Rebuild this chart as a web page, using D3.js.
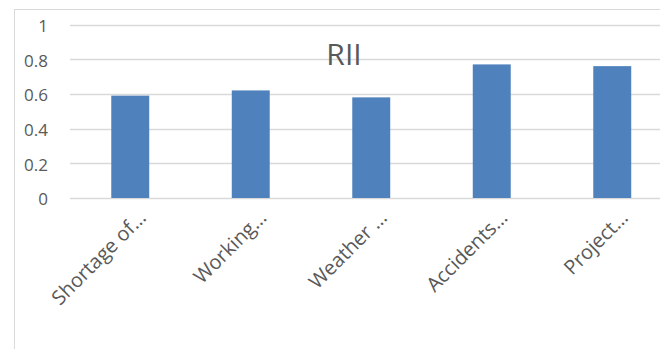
<!DOCTYPE html>
<html><head><meta charset="utf-8">
<script src="https://cdn.jsdelivr.net/npm/d3@7"></script>
<style>html,body{margin:0;padding:0;background:#fff;}svg{display:block;}</style>
</head><body>
<script>
const categories = ["Shortage of…", "Working…", "Weather …", "Accidents…", "Project…"];
const values = [0.59, 0.62, 0.58, 0.77, 0.76];
const yTicks = [0, 0.2, 0.4, 0.6, 0.8, 1];
const yTickLabels = ["0", "0.2", "0.4", "0.6", "0.8", "1"];
const title = "RII";

const W = 660, H = 349;
const font = "'Open Sans', Calibri, sans-serif";
const svg = d3.select("body").append("svg").attr("width", W).attr("height", H);

// chart area border
svg.append("rect").attr("x", 14.5).attr("y", 9.5).attr("width", 700).attr("height", 400)
  .attr("fill", "#fff").attr("stroke", "#d9d9d9").attr("stroke-width", 1);

const x = d3.scaleBand().domain(categories).range([70, 672.5]).paddingInner(0.685).paddingOuter(0.3425);
const y = d3.scaleLinear().domain([0, 1]).range([198, 24.5]);

// gridlines
svg.append("g").selectAll("line").data(yTicks).join("line")
  .attr("x1", 70).attr("x2", 672.5)
  .attr("y1", d => Math.round(y(d)) + 0.5).attr("y2", d => Math.round(y(d)) + 0.5)
  .attr("stroke", "#d9d9d9").attr("stroke-width", 1.3);

// y axis labels
const yAxis = d3.axisLeft(y).tickValues(yTicks).tickSize(0).tickPadding(0)
  .tickFormat((d, i) => yTickLabels[i]);
const gy = svg.append("g").attr("transform", "translate(48,0)").call(yAxis);
gy.select(".domain").remove();
gy.selectAll("text").attr("font-family", font).attr("font-size", 17).attr("fill", "#595959").attr("dy", "0.4em");

// bars
svg.append("g").selectAll("rect").data(values).join("rect")
  .attr("x", (d, i) => x(categories[i]))
  .attr("width", x.bandwidth())
  .attr("y", d => y(d))
  .attr("height", d => y(0) - y(d))
  .attr("fill", "#4f81bd");

// x axis labels
const xAxis = d3.axisBottom(x).tickSize(0).tickPadding(0);
const gx = svg.append("g").attr("transform", "translate(0,198)").call(xAxis);
gx.select(".domain").remove();
gx.selectAll("text")
  .attr("font-family", font).attr("font-size", 20).attr("fill", "#595959")
  .attr("text-anchor", "end").attr("dy", null).attr("y", 0)
  .attr("transform", "translate(17,21) rotate(-45)");

// title
svg.append("text").attr("x", 344).attr("y", 65).attr("text-anchor", "middle")
  .attr("font-family", font).attr("font-size", 30).attr("fill", "#595959").text(title);
</script>
</body></html>
